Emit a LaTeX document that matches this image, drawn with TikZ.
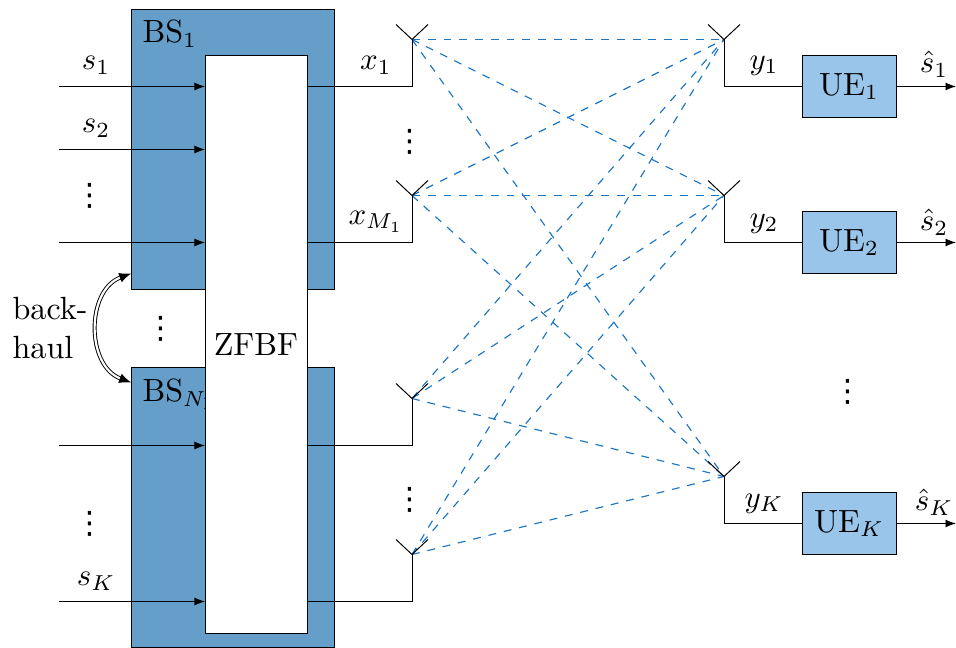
\documentclass[tikz,border=0pt]{standalone}
\usepackage{fontspec}
\newfontfamily\symfont{DejaVu Sans}
\usetikzlibrary{arrows.meta}
\definecolor{bsblue}{HTML}{659FC9}
\definecolor{ueblue}{HTML}{99C5EA}
\definecolor{linkblue}{HTML}{1B75C4}
\newcommand{\pxu}{0.3236pt}
\newcommand{\tightdots}{{\symfont\fontsize{10}{10}\selectfont ⋮}}
\tikzset{
 block/.style={draw=black,line width=0.32pt,inner sep=0pt,outer sep=0pt},
 bsbox/.style={block,fill=bsblue,minimum width=203*\pxu,minimum height=280*\pxu},
 uebox/.style={block,fill=ueblue,minimum width=94*\pxu,minimum height=62*\pxu},
 zfbox/.style={block,fill=white,minimum width=102*\pxu,minimum height=578*\pxu},
 link/.style={linkblue,line width=0.37pt,dash pattern=on 2.55pt off 2.55pt},
 sig/.style={-{Latex[length=3.4pt,width=2.6pt]},line width=0.32pt},
 wire/.style={line width=0.32pt},
 lab/.style={inner sep=0pt},
 every node/.append style={font=\fontsize{10.4}{12.6}\selectfont}
}
\begin{document}
\begin{tikzpicture}[x=\pxu,y=-\pxu]
\useasboundingbox (0,-0.5) rectangle (956,647.5);
% base stations
\node[bsbox] (bs1) at (232.5,149) {};
\node[bsbox] (bs2) at (232.5,507.5) {};
\node[lab,anchor=base west] (bs1l) at (142,42) {BS$_1$};
\node[lab,anchor=base west] (bs2l) at (142,401) {BS$_{N_\mathrm{B}}$};
\node[zfbox] (zf) at (256,344) {ZFBF};
% UEs
\node[uebox] (ue1) at (849,86) {UE$_1$};
\node[uebox] (ue2) at (849,242) {UE$_2$};
\node[uebox] (ue3) at (849,523) {UE$_K$};
% coordinates
\foreach \n/\y in {1/86,2/149,3/242,4/445,5/601}{
  \coordinate (in\n) at (59,\y);
  \coordinate (zi\n) at (205,\y);
}
\foreach \n/\y in {1/39,2/195,3/398,4/554}{
  \coordinate (ta\n) at (412,\y);
  \coordinate (tl\n) at (396,\y-15);
  \coordinate (tr\n) at (428,\y-15);
}
\foreach \n/\y in {1/39,2/195,3/476}{
  \coordinate (ra\n) at (724,\y);
  \coordinate (rl\n) at (708,\y-15);
  \coordinate (rr\n) at (740,\y-15);
}
\coordinate (o1) at (956,86);
\coordinate (o2) at (956,242);
\coordinate (o3) at (956,523);
\coordinate (z1) at (307,86);
\coordinate (z2) at (307,242);
\coordinate (z3) at (307,445);
\coordinate (z4) at (307,601);
\coordinate (bh1) at (131,273);
\coordinate (bh2) at (131,382);
% links
\foreach \a in {1,2,3,4}{\foreach \b in {1,2,3}{
  \draw[link] (ta\a) -- (ra\b);
}}
% inputs
\foreach \n in {1,...,5}{\draw[sig] (in\n) -- (zi\n);}
% tx antennas
\foreach \n in {1,...,4}{
  \draw[wire] (z\n) -| (ta\n);
  \draw[wire] (tl\n) -- (ta\n) -- (tr\n);
}
% rx antennas
\foreach \n in {1,2,3}{
  \draw[wire] (ra\n) |- (ue\n.west);
  \draw[wire] (rl\n) -- (ra\n) -- (rr\n);
  \draw[sig] (ue\n.east) -- (o\n);
}
% backhaul
\draw[{Latex[length=3.8pt,width=3.2pt]}-{Latex[length=3.8pt,width=3.2pt]},double,line width=0.3pt,double distance=0.7pt]
  (bh1) .. controls (86,290) and (86,365) .. (bh2);
\node[lab,align=left,anchor=west] (bh) at (12,328) {back-\\haul};
% labels
\node[lab] (ls1) at (96,65) {$s_1$};
\node[lab] (ls2) at (96,128) {$s_2$};
\node[lab] (lsK) at (96,581) {$s_K$};
\node[lab] (lx1) at (376,65) {$x_1$};
\node[lab] (lxM) at (376,221) {$x_{M_1}$};
\node[lab] (ly1) at (764,65) {$y_1$};
\node[lab] (ly2) at (764,223) {$y_2$};
\node[lab] (lyK) at (764,503) {$y_K$};
\node[lab] (lh1) at (934,64) {$\hat s_1$};
\node[lab] (lh2) at (934,222) {$\hat s_2$};
\node[lab] (lhK) at (934,502) {$\hat s_K$};
\node[lab] (d1) at (90,195) {\tightdots};
\node[lab] (d2) at (90,523) {\tightdots};
\node[lab] (d3) at (161,328) {\tightdots};
\node[lab] (d4) at (410,141) {\tightdots};
\node[lab] (d5) at (410,499) {\tightdots};
\node[lab] (d6) at (848,391) {\tightdots};
\end{tikzpicture}
\end{document}
